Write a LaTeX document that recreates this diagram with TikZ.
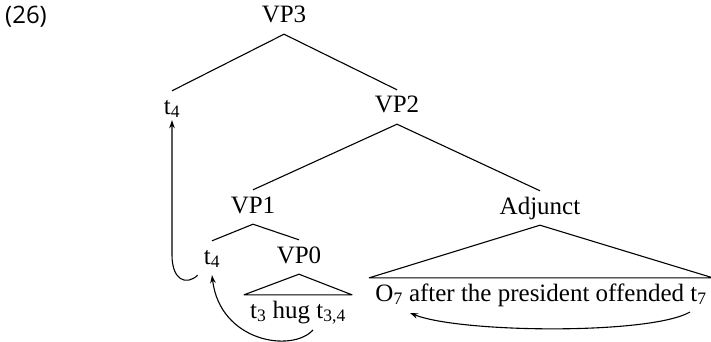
\documentclass[tikz,border=0pt]{standalone}
\usepackage{fontspec}
\setmainfont{Liberation Serif}
\newfontfamily\numfont{Open Sans}
\usetikzlibrary{arrows.meta}
\tikzset{
  lbl/.style={anchor=base, inner sep=6pt, text height=17pt, text depth=5pt,
              font=\fontsize{25}{29}\selectfont},
  branch/.style={line width=1.1pt, line join=round},
  move/.style={line width=1.1pt, -{Stealth[length=8pt,width=5.5pt]}}
}
\begin{document}
\begin{tikzpicture}[x=1pt,y=-1pt]
\useasboundingbox (0,0) rectangle (711,342);

% example number
\node[anchor=base, inner sep=0pt, font=\numfont\fontsize{24}{28}\selectfont] (num) at (26,24) {(26)};

% tree labels
\node[lbl] (vp3) at (284,23) {VP3};
\node[lbl] (t4a) at (172,114) {t\textsubscript{4}};
\node[lbl] (vp2) at (397,113) {VP2};
\node[lbl] (vp1) at (253,213) {VP1};
\node[lbl] (adj) at (540,214) {Adjunct};
\node[lbl] (t4b) at (212,264) {t\textsubscript{4}};
\node[lbl] (vp0) at (299,263) {VP0};
\node[lbl] (t3hug) at (298,318) {t\textsubscript{3} hug t\textsubscript{3,4}};
\node[lbl] (otext) at (541,301) {O\textsubscript{7} after the president offended t\textsubscript{7}};

% branches
\draw[branch] (vp3.south) -- (t4a.north);
\draw[branch] (vp3.south) -- (vp2.north);
\draw[branch] (vp2.south) -- (vp1.north);
\draw[branch] (vp2.south) -- (adj.north);
\draw[branch] (vp1.south) -- (t4b.north);
\draw[branch] (vp1.south) -- (vp0.north);

% triangles over unanalysed material
\draw[branch] (vp0.south) -- (t3hug.north west) -- (t3hug.north east) -- cycle;
\draw[branch] (adj.south) -- (otext.north west) -- (otext.north east) -- cycle;

% movement paths
\coordinate (bend) at (172,255);
\coordinate (t34foot) at (313,330);
\coordinate (t7foot) at (690,312);
\coordinate (o7foot) at (410,313);

\draw[move] (t4b.south west) .. controls (186,286) and (172,280) .. (bend) -- ([yshift=5pt]t4a.south);
\draw[move] (t34foot) .. controls (292,353) and (220,342) .. (t4b.south);
\draw[move] (t7foot) .. controls (650,335) and (460,333) .. (o7foot);
\end{tikzpicture}
\end{document}
